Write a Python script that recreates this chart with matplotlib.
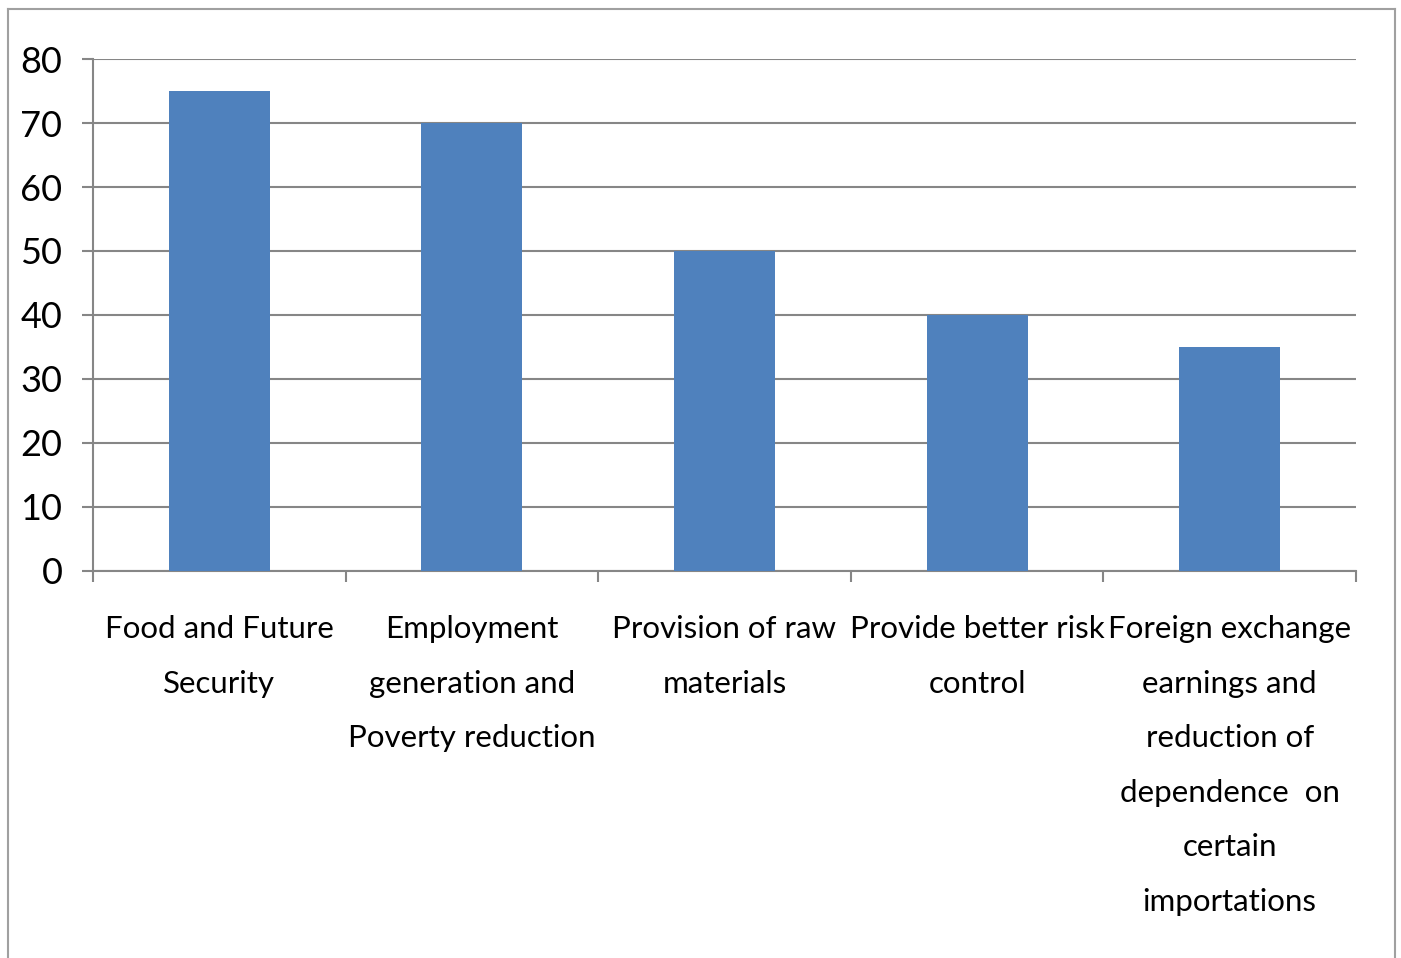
import matplotlib.pyplot as plt
import matplotlib.lines as mlines
import numpy as np

categories = [
    "Food and Future\nSecurity",
    "Employment\ngeneration and\nPoverty reduction",
    "Provision of raw\nmaterials",
    "Provide better risk\ncontrol",
    "Foreign exchange\nearnings and\nreduction of\ndependence  on\ncertain\nimportations",
]
values = [75, 70, 50, 40, 35]
yticks = [0, 10, 20, 30, 40, 50, 60, 70, 80]

plt.rcParams['font.family'] = ['Lato', 'DejaVu Sans']
grid_col = "#868686"

fig = plt.figure(figsize=(14.01, 9.58), dpi=100)
ax = fig.add_axes([93/1401, 1-571/958, (1356-93)/1401, (571-59)/958])

x = np.arange(len(categories))
ax.bar(x, values, width=0.4, color="#4f81bd", zorder=3)

ax.set_xlim(-0.5, len(categories)-0.5)
ax.set_ylim(0, 80)
ax.set_yticks(yticks)
ax.set_yticklabels([str(v) for v in yticks], fontsize=26)
ax.set_xticks(x)
ax.set_xticklabels(categories, fontsize=22.5, linespacing=2.15)
ax.set_xticks(np.arange(len(categories)+1)-0.5, minor=True)

ax.tick_params(axis='x', which='major', length=0, pad=32)
ax.tick_params(axis='x', which='minor', length=8, width=1.5, color=grid_col)
ax.tick_params(axis='y', length=8, width=1.5, color=grid_col, pad=14)

ax.grid(axis='y', color=grid_col, linewidth=1.5, zorder=0)
for s in ['top', 'right']:
    ax.spines[s].set_visible(False)
for s in ['left', 'bottom']:
    ax.spines[s].set_color(grid_col)
    ax.spines[s].set_linewidth(1.5)

# outer chart border
bx0, bx1, by1 = 8/1401, 1395/1401, 1-9/958
for xs, ys in [([bx0, bx0], [-0.01, by1]), ([bx0, bx1], [by1, by1]), ([bx1, bx1], [by1, -0.01])]:
    fig.add_artist(mlines.Line2D(xs, ys, color="#a0a0a0", linewidth=1.5, transform=fig.transFigure))

fig.savefig("out.png", dpi=100)
